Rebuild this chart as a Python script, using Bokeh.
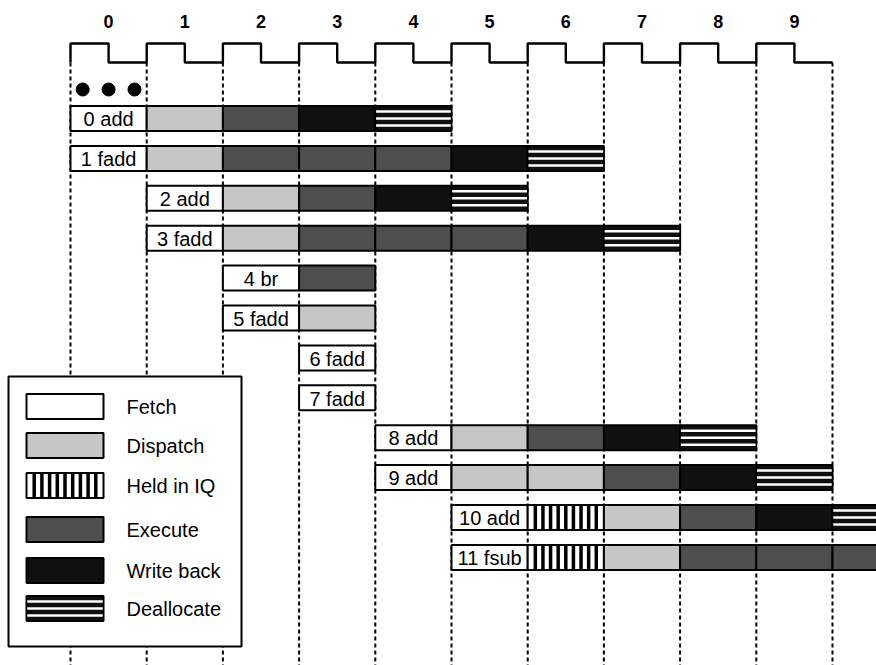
from bokeh.plotting import figure
from bokeh.models import Range1d, ColumnDataSource
from bokeh.core.properties import value
from bokeh.embed import file_html
from bokeh.resources import INLINE

# ---------------- data ----------------
cycle_labels = ["0", "1", "2", "3", "4", "5", "6", "7", "8", "9"]
instr_labels = ["0 add", "1 fadd", "2 add", "3 fadd", "4 br", "5 fadd",
                "6 fadd", "7 fadd", "8 add", "9 add", "10 add", "11 fsub"]
fetch_cycle = [0, 0, 1, 1, 2, 2, 3, 3, 4, 4, 5, 5]
stage_seq = [
    ["Dispatch", "Execute", "Write back", "Deallocate"],
    ["Dispatch", "Execute", "Execute", "Execute", "Write back", "Deallocate"],
    ["Dispatch", "Execute", "Write back", "Deallocate"],
    ["Dispatch", "Execute", "Execute", "Execute", "Write back", "Deallocate"],
    ["Execute"],
    ["Dispatch"],
    [],
    [],
    ["Dispatch", "Execute", "Write back", "Deallocate"],
    ["Dispatch", "Dispatch", "Execute", "Write back", "Deallocate"],
    ["Held in IQ", "Dispatch", "Execute", "Write back", "Deallocate"],
    ["Held in IQ", "Dispatch", "Execute", "Execute", "Execute"],
]
legend_stages = ["Fetch", "Dispatch", "Held in IQ", "Execute", "Write back", "Deallocate"]
dots_x = [0.16, 0.5, 0.84]

# ---------------- styles / layout ----------------
FONT = value("Liberation Sans")
fills = {"Fetch": "white", "Dispatch": "#c6c6c6", "Held in IQ": "white",
         "Execute": "#4e4e4e", "Write back": "#101010", "Deallocate": "#101010"}
X0, CW, Y0, RH = 70.0, 76.2, 118.0, 39.9   # image-pixel geometry


def cx(px):
    return (px - X0) / CW


def ry(py):
    return (py - Y0) / RH


H = 25.0 / RH          # bar height in row units
HI, LO = ry(43), ry(62)  # clock levels

W, HT = 876, 665
p = figure(width=W, height=HT, output_backend="svg", toolbar_location=None,
           x_range=Range1d(cx(0), cx(W)), y_range=Range1d(ry(HT), ry(0)),
           min_border=0, outline_line_color=None,
           x_axis_location=None, y_axis_location=None)
p.xgrid.visible = False
p.ygrid.visible = False
p.background_fill_color = "white"
p.border_fill_color = "white"

# clock
ncyc = len(cycle_labels)
xs, ys = [], []
for c in range(ncyc):
    xs += [c, c, c + 0.5, c + 0.5]
    ys += [LO, HI, HI, LO]
xs.append(ncyc)
ys.append(LO)
p.line(xs, ys, line_color="black", line_width=2.4)
p.text(x=[c + 0.5 for c in range(ncyc)], y=[ry(21)] * ncyc, text=cycle_labels,
       text_align="center", text_baseline="middle", text_font=FONT,
       text_font_size="18px", text_font_style="bold", text_color="black")

# dashed boundaries
bx = list(range(ncyc + 1))
p.segment(x0=bx, y0=[LO] * len(bx), x1=bx, y1=[ry(670)] * len(bx),
          line_color="black", line_width=2, line_dash="4 3")

# dots
p.scatter(x=dots_x, y=[ry(89)] * 3, size=13, color="black")

# legend box (covers dashed lines)
p.quad(left=[cx(8)], right=[cx(241)], top=[ry(376)], bottom=[ry(646)],
       fill_color="white", line_color="black", line_width=2)

# cells
L, R, T, B, F, ST = [], [], [], [], [], []
for r, seq in enumerate(stage_seq):
    stages = ["Fetch"] + seq
    for k, s in enumerate(stages):
        c = fetch_cycle[r] + k
        L.append(c); R.append(c + 1)
        T.append(r - H / 2); B.append(r + H / 2)
        F.append(fills[s]); ST.append(s)

# legend swatches
leg_y = [ry(v) for v in (406, 445, 485, 529, 570, 608)]
for yy, s in zip(leg_y, legend_stages):
    L.append(cx(26)); R.append(cx(103))
    T.append(yy - H / 2); B.append(yy + H / 2)
    F.append(fills[s]); ST.append(s)

src = ColumnDataSource(dict(left=L, right=R, top=T, bottom=B, fill=F))
p.quad(left="left", right="right", top="top", bottom="bottom", source=src,
       fill_color="fill", line_color="black", line_width=2)

# held-in-IQ stripes and deallocate stripes
hx0, hy0, hx1, hy1 = [], [], [], []
dx0, dy, dx1 = [], [], []
for l, r_, t, b, s in zip(L, R, T, B, ST):
    w = r_ - l
    yc = (t + b) / 2
    if s == "Held in IQ":
        for k in range(1, 10):
            xx = l + w * k / 10
            hx0.append(xx); hx1.append(xx)
            hy0.append(t); hy1.append(b)
    if s == "Deallocate":
        for f in (-0.28, 0.0, 0.28):
            dx0.append(l + 0.01 * w); dx1.append(r_ - 0.01 * w)
            dy.append(yc + f * H)
p.segment(x0=hx0, y0=hy0, x1=hx1, y1=hy1, line_color="black", line_width=3.5)
p.segment(x0=dx0, y0=dy, x1=dx1, y1=dy, line_color="white", line_width=2.5)

# instruction labels
p.text(x=[fc + 0.5 for fc in fetch_cycle], y=[r + 0.02 for r in range(len(instr_labels))],
       text=instr_labels, text_align="center", text_baseline="middle",
       text_font=FONT, text_font_size="20px", text_color="black")

# legend labels
p.text(x=[cx(126)] * len(legend_stages), y=leg_y, text=legend_stages,
       text_align="left", text_baseline="middle", text_font=FONT,
       text_font_size="20px", text_color="black")

open("out.html", "w").write(file_html(p, INLINE))
